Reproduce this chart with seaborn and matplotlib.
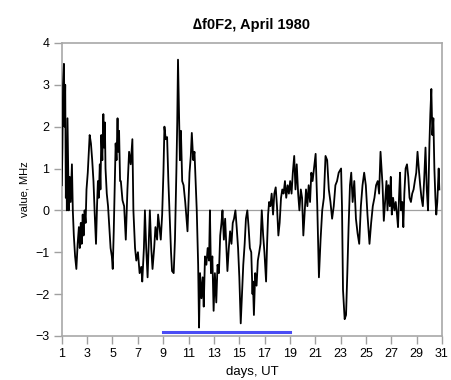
import matplotlib
matplotlib.use("Agg")
import matplotlib.pyplot as plt
import seaborn as sns
import pandas as pd

# hourly-ish deltas (day of month, MHz)
days = [
    1.0, 1.05, 1.1, 1.17, 1.22, 1.27, 1.32, 1.36, 1.4, 1.45, 1.5, 1.55, 1.62, 1.7, 1.8, 1.87,
    1.95, 2.05, 2.15, 2.25, 2.35, 2.42, 2.5, 2.57, 2.65, 2.72, 2.8, 2.88, 2.95, 3.05, 3.12, 3.2,
    3.3, 3.4, 3.5, 3.6, 3.7, 3.78, 3.85, 3.92, 4.0, 4.05, 4.12, 4.2, 4.28, 4.33, 4.4, 4.45,
    4.55, 4.65, 4.75, 4.85, 4.95, 5.02, 5.1, 5.18, 5.25, 5.32, 5.4, 5.45, 5.52, 5.6,
    5.66, 5.79, 5.92, 6.05, 6.18, 6.31, 6.44, 6.57, 6.65, 6.78, 6.88, 7.01, 7.14, 7.27, 7.35,
    7.48, 7.56, 7.66, 7.77, 7.87, 7.95, 8.06, 8.16, 8.29, 8.39, 8.52, 8.6, 8.71, 8.81, 8.92,
    9.02, 9.1, 9.2, 9.31, 9.41, 9.51, 9.62, 9.7, 9.83, 9.93, 10.04, 10.11, 10.17, 10.24, 10.32,
    10.4, 10.5, 10.61, 10.74, 10.92, 11.08, 11.18, 11.26, 11.37, 11.47, 11.57, 11.65, 11.76,
    11.83, 11.91, 12.02, 12.12, 12.2, 12.3, 12.41, 12.51, 12.62, 12.69, 12.77, 12.88, 12.98,
    13.08, 13.19, 13.29, 13.4, 13.5, 13.6, 13.68, 13.79, 13.89, 14.0, 14.07, 14.18, 14.28,
    14.39, 14.49, 14.59, 14.7, 14.8, 14.91, 15.01, 15.12, 15.22, 15.32, 15.43, 15.53, 15.64,
    15.74, 15.84, 15.95, 16.05, 16.08, 16.16, 16.26, 16.37, 16.47, 16.58, 16.68, 16.78, 16.89,
    16.99, 17.12, 17.2, 17.28, 17.36, 17.46, 17.56, 17.67, 17.77, 17.88, 17.98, 18.09, 18.19,
    18.3, 18.4, 18.5, 18.61, 18.71, 18.82, 18.92, 19.02, 19.13, 19.23, 19.34, 19.44, 19.54,
    19.65, 19.75, 19.86, 19.96, 20.06, 20.17, 20.27, 20.38, 20.48, 20.59, 20.69, 20.79, 20.9,
    21.03, 21.16, 21.29, 21.42, 21.55, 21.68, 21.81, 21.94, 22.07, 22.2, 22.33, 22.46, 22.59,
    22.72, 22.85, 23.04, 23.11, 23.19, 23.32, 23.43, 23.53, 23.63, 23.74, 23.84, 23.95, 24.08,
    24.21, 24.34, 24.47, 24.6, 24.73, 24.86, 24.99, 25.12, 25.28, 25.41, 25.54, 25.67, 25.8,
    25.93, 26.04, 26.15, 26.31, 26.41, 26.52, 26.62, 26.7, 26.78, 26.88, 26.96, 27.04, 27.14,
    27.25, 27.35, 27.45, 27.53, 27.61, 27.69, 27.77, 27.87, 27.95, 28.03, 28.13, 28.24, 28.34,
    28.44, 28.55, 28.65, 28.76, 28.86, 28.97, 29.07, 29.17, 29.28, 29.38, 29.49, 29.59, 29.7,
    29.8, 29.9, 30.01, 30.08, 30.16, 30.24, 30.32, 30.4, 30.48, 30.55, 30.63, 30.74, 30.79,
]
values = [
    0.6, 1.5, 3.0, 3.5, 2.0, 3.0, 0.3, 1.5, 0.0, 2.2, 1.0, 0.0, 0.8, 0.2, 1.1, 0.0,
    -0.6, -1.1, -1.4, -0.8, -0.4, -0.9, -0.3, -0.8, -0.1, -0.6, 0.0, -0.3, 0.5, 0.9, 1.3, 1.8,
    1.6, 1.2, 0.7, -0.1, -0.8, 0.1, 0.7, 0.3, 1.1, 0.5, 1.8, 1.2, 2.3, 1.5, 2.1, 1.0,
    0.4, 0.1, -0.4, -0.9, -1.1, -1.4, -0.5, 0.6, 1.6, 1.2, 2.2, 1.4, 1.9, 0.7,
    0.7, 0.24, 0.1, -0.7, 0.5, 1.4, 1.1, 1.7, 0.0, -0.9, -1.2, -1.0, -1.5, -1.35, -1.7,
    -0.9, 0.0, -0.9, -1.6, -0.7, 0.0, -0.9, -1.4, -0.9, -0.4, -0.7, -0.1, -0.4, -0.7, -0.1,
    0.9, 2.0, 1.7, 1.75, 0.7, -0.1, -1.0, -1.45, -1.5, -0.7, 0.9, 2.1, 3.6, 2.5, 1.2,
    1.9, 0.7, 0.6, 0.2, -0.5, 0.9, 1.3, 1.85, 1.2, 1.4, 0.6, 0.0, -1.3,
    -2.8, -1.5, -2.1, -1.6, -2.3, -1.1, -1.3, -0.9, -1.2, 0.0, -1.5, -1.1, -2.4,
    -1.5, -2.2, -1.3, -1.5, -0.6, -0.3, 0.0, -0.7, -0.2, -1.0, -1.45, -0.9, -0.5,
    -0.8, -0.3, -0.2, 0.0, -0.4, -0.9, -1.6, -2.7, -2.0, -1.3, -0.8, -0.2, 0.0,
    -0.4, -0.9, -1.0, -2.0, -1.7, -2.5, -1.5, -1.8, -1.2, -1.0, -0.8, 0.0, -0.6,
    -1.0, -1.7, -0.8, -0.1, 0.2, 0.1, 0.4, -0.1, 0.4, 0.55, 0.1, -0.6, -0.3,
    0.3, 0.5, 0.4, 0.7, 0.3, 0.6, 0.4, 0.7, 0.4, 0.9, 1.3, 0.5, 1.1,
    0.4, 0.0, 0.5, 0.3, -0.6, 0.0, 0.5, 0.1, 0.6, 0.2, 0.9, 0.7, 1.0,
    1.35, 0.1, -1.6, -0.7, 0.0, 0.3, 1.3, 1.2, 0.5, 0.2, -0.2, 0.1, 0.6,
    0.7, 0.9, 1.0, 0.1, -1.9, -2.6, -2.5, -1.5, -0.4, 0.6, 0.9, 0.2, 0.7,
    -0.2, -0.55, -0.8, 0.1, 0.6, 0.9, 0.6, -0.1, -0.8, -0.3, 0.1, 0.3, 0.6,
    0.7, 0.4, 1.4, 0.6, -0.25, 0.25, 0.7, 0.0, 0.6, 0.1, 0.8, -0.1, 0.3,
    0.0, 0.2, -0.1, -0.4, 0.3, 0.9, 0.0, 0.2, -0.4, 0.4, 1.0, 1.1, 0.8,
    0.3, 0.2, 0.4, 0.5, 0.7, 0.9, 1.4, 1.0, 0.6, 0.3, 0.1, 0.7, 1.5,
    0.5, 0.0, 1.6, 2.3, 2.9, 1.8, 2.2, 1.0, 0.3, -0.1, 0.2, 1.0, 0.5,
]

# storm period marker
storm_days = [9, 19]
storm_level = [-2.9, -2.9]

x_ticks = list(range(1, 32, 2))
y_ticks = list(range(-3, 5))

df = pd.DataFrame({"day": days, "value": values})

plt.rcParams["font.family"] = ["Liberation Sans", "DejaVu Sans"]
fig = plt.figure(figsize=(4.51, 3.8), dpi=100)
ax = fig.add_axes([0.137, 0.116, 0.843, 0.771])

ax.axhline(0, color="#a0a0a0", lw=0.9, zorder=1)
sns.lineplot(data=df, x="day", y="value", ax=ax, color="black", lw=1.3, zorder=3)
sns.lineplot(x=storm_days, y=storm_level, ax=ax, color="#4a4cf5", lw=2.2, zorder=2)

ax.set_xlim(1, 31)
ax.set_ylim(-3, 4)
ax.set_xticks(x_ticks)
ax.set_yticks(y_ticks)
ax.tick_params(direction="out", length=6, width=1, color="#a0a0a0", labelsize=9, pad=3)
for s in ax.spines.values():
    s.set_color("#a8a8a8")
    s.set_linewidth(1.2)

ax.set_xlabel("days, UT", fontsize=9.5)
ax.set_ylabel("value, MHz", fontsize=8)
ax.set_title("\u2206f0F2, April 1980", fontsize=10.5, fontweight="bold", pad=10)

fig.savefig("out.png", dpi=100)
